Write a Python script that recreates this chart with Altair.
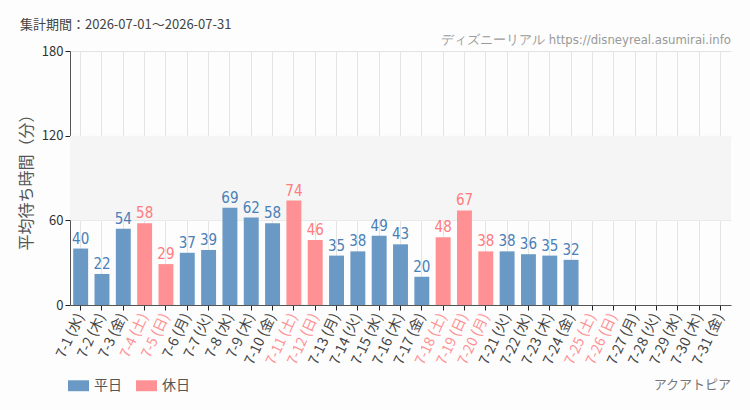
import altair as alt
import pandas as pd

# Daily average wait times, July 2026
dates = [f"7-{d}" for d in range(1, 32)]
weekdays = ["水", "木", "金", "土", "日", "月", "火"]
day_names = [weekdays[i % 7] for i in range(31)]
labels = [f"{d} ({w})" for d, w in zip(dates, day_names)]
waits = [40, 22, 54, 58, 29, 37, 39, 69, 62, 58, 74, 46, 35, 38, 49, 43,
         20, 48, 67, 38, 38, 36, 35, 32, None, None, None, None, None, None, None]
holidays = ["7-4", "7-5", "7-11", "7-12", "7-18", "7-19", "7-20", "7-25", "7-26"]

kind = ["休日" if d in holidays else "平日" for d in dates]
df = pd.DataFrame({"label": labels, "wait": waits, "kind": kind})
bars_df = df.dropna()

holiday_labels = [l for l, d in zip(labels, dates) if d in holidays]

BLUE = "#6a99c5"
PINK = "#ff9194"
BLUE_TXT = "#4a7fb8"
PINK_TXT = "#ff7b7e"
NUM_FONT = "DejaVu Sans Condensed, Liberation Sans Narrow, Roboto, sans-serif"
JP_FONT = "Noto Sans CJK JP"

label_test = "indexof(" + str(holiday_labels) + ", datum.value) >= 0"

x_enc = alt.X(
    "label:N",
    sort=labels,
    scale=alt.Scale(domain=labels, paddingInner=0.3, paddingOuter=0.15),
    axis=alt.Axis(
        title=None,
        labelAngle=-65,
        labelFontSize=14,
        labelColor={"condition": {"test": label_test, "value": PINK}, "value": "#444444"},
        labelPadding=4,
        tickColor="#222222",
        tickSize=5,
        domainColor="#555555",
        gridColor="#e4e4e4",
        grid=True,
        bandPosition=0.5,
        labelFont=JP_FONT,
    ),
)
y_scale = alt.Scale(domain=[0, 180], nice=False)
y_enc = alt.Y(
    "wait:Q",
    scale=y_scale,
    axis=alt.Axis(
        title="平均待ち時間（分）",
        titleFont=JP_FONT,
        titleFontSize=16,
        titleFontWeight="normal",
        titleColor="#555555",
        titlePadding=7,
        values=[0, 60, 120, 180],
        labelFontSize=13,
        labelColor="#333333",
        labelFont=JP_FONT,
        tickColor="#222222",
        tickSize=5,
        domainColor="#555555",
        gridColor="#e4e4e4",
    ),
)

band_df = pd.DataFrame({"lo": [60], "hi": [120]})
band = alt.Chart(band_df).mark_rect(color="#f4f5f4").encode(
    y=alt.Y("lo:Q", scale=y_scale),
    y2="hi:Q",
    x=alt.value(0),
    x2=alt.value(661),
)

bars = alt.Chart(bars_df).mark_bar().encode(
    x=x_enc,
    y=y_enc,
    color=alt.Color(
        "kind:N",
        scale=alt.Scale(domain=["平日", "休日"], range=[BLUE, PINK]),
        legend=alt.Legend(
            title=None,
            orient="none",
            legendX=-2,
            legendY=324,
            direction="horizontal",
            symbolType="M-1,-0.52H1V0.52H-1Z",
            symbolSize=441,
            symbolStrokeWidth=0,
            labelFont=JP_FONT,
            labelFontSize=14,
            labelColor="#555555",
            columnPadding=14,
            labelOffset=5,
        ),
    ),
)

values = alt.Chart(bars_df).mark_text(
    baseline="bottom", dy=-2, font=NUM_FONT, fontSize=15
).encode(
    x=x_enc,
    y=alt.Y("wait:Q", scale=y_scale),
    text=alt.Text("wait:Q", format="d"),
    color=alt.Color(
        "kind:N",
        scale=alt.Scale(domain=["平日", "休日"], range=[BLUE_TXT, PINK_TXT]),
        legend=None,
    ),
)

title_txt = alt.Chart(pd.DataFrame({"t": ["集計期間：2026-07-01～2026-07-31"]})).mark_text(
    align="left", baseline="middle", font=JP_FONT, fontSize=13, color="#444444"
).encode(text="t:N", x=alt.value(-50), y=alt.value(-26))

site_txt = alt.Chart(pd.DataFrame({"t": ["ディズニーリアル https://disneyreal.asumirai.info"]})).mark_text(
    align="right", baseline="middle", font=NUM_FONT, fontSize=13, color="#999999"
).encode(text="t:N", x=alt.value(661), y=alt.value(-11))

attr_txt = alt.Chart(pd.DataFrame({"t": ["アクアトピア"]})).mark_text(
    align="right", baseline="middle", font=JP_FONT, fontSize=13, color="#777777"
).encode(text="t:N", x=alt.value(661), y=alt.value(334))

chart = alt.layer(band, bars, values, title_txt, site_txt, attr_txt).resolve_scale(
    color="independent"
).properties(
    width=661,
    height=254,
    background="#fcfdfc",
    padding={"left": 70, "top": 51, "right": 19, "bottom": 105},
    autosize=alt.AutoSizeParams(type="none"),
).configure_view(stroke=None).configure_axis(
    labelFontWeight="normal"
)

chart.save("out.html", embed_options={"renderer": "svg", "actions": False})
